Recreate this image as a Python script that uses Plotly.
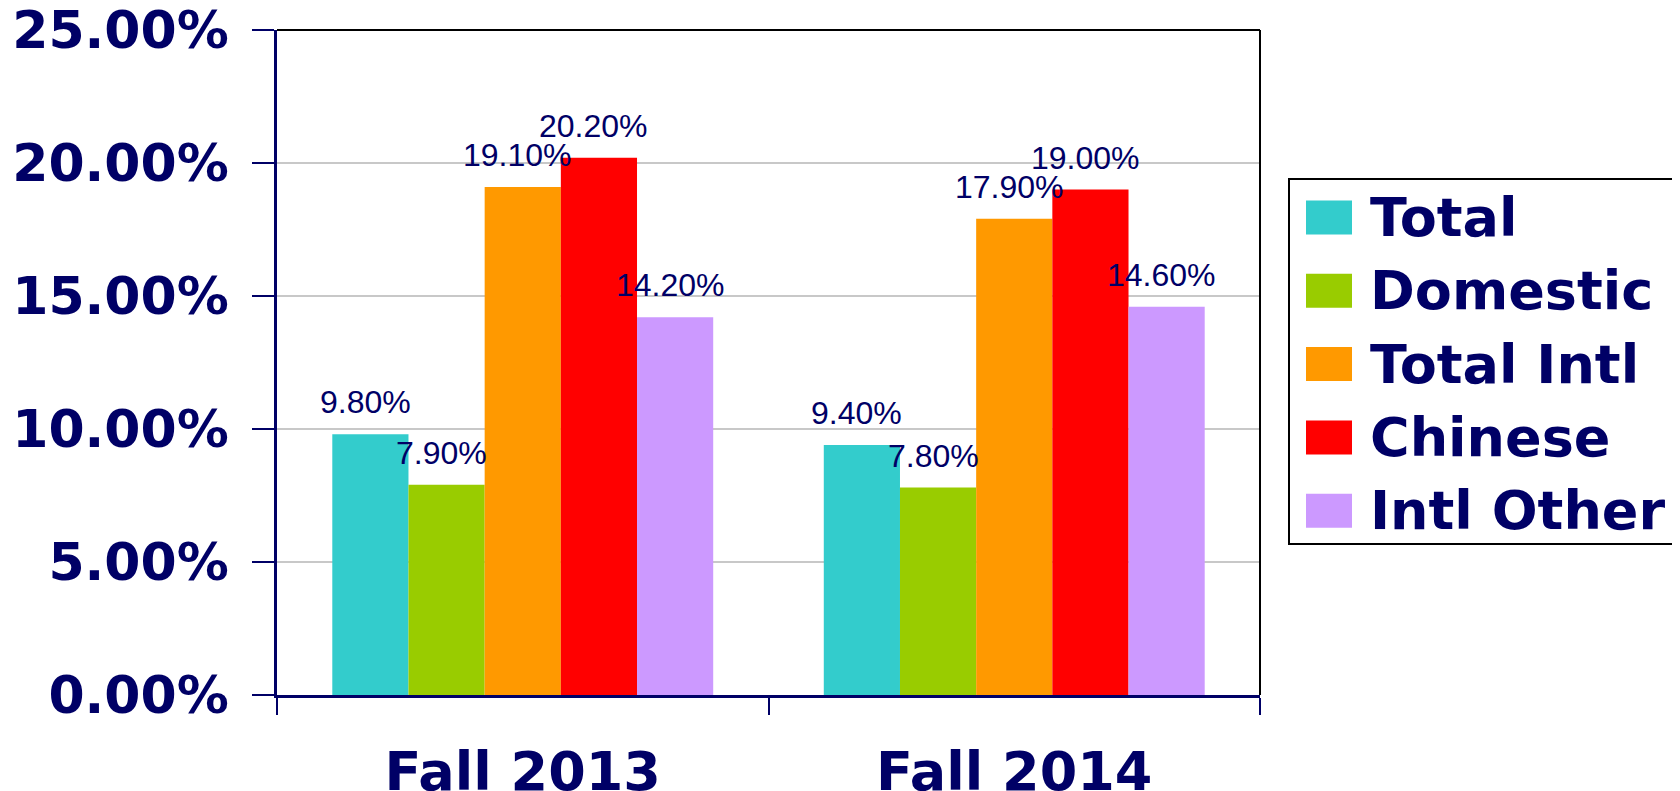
import plotly.graph_objects as go

categories = ["Fall 2013", "Fall 2014"]
series_names = ["Total", "Domestic", "Total Intl", "Chinese", "Intl Other"]
total = [9.8, 9.4]
domestic = [7.9, 7.8]
total_intl = [19.1, 17.9]
chinese = [20.2, 19.0]
intl_other = [14.2, 14.6]
series_values = [total, domestic, total_intl, chinese, intl_other]
colors = ["#33CCCC", "#99CC00", "#FF9900", "#FF0000", "#CC99FF"]
y_ticks = [0, 5, 10, 15, 20, 25]

NAVY = "#000066"
OFF = 8  # page body margin
W, H = 1680 - OFF, 791 - OFF
L, T = 277 - OFF, 30 - OFF
R = 420
B = 96
BARGAP = 0.225

fig = go.Figure()
for name, vals, col in zip(series_names, series_values, colors):
    fig.add_trace(go.Bar(x=categories, y=vals, name=name, marker=dict(color=col, line=dict(width=0)),
                         showlegend=False))

# data labels above bars
n = len(series_names)
bw = (1 - BARGAP) / n
for i, vals in enumerate(series_values):
    off = -(1 - BARGAP) / 2 + bw * (i + 0.5)
    for j, v in enumerate(vals):
        fig.add_annotation(x=j + off, y=v, xref="x", yref="y", text=f"{v:.2f}%",
                           showarrow=False, yanchor="bottom", xanchor="center", yshift=12, xshift=-5,
                           font=dict(family="Liberation Sans, Arial", size=32, color=NAVY))

# manual legend (positions given in screen pixels)
pw, ph = W - L - R, H - T - B
def px(x):
    return (x - OFF - L) / pw
def py(y):
    return (H - B - (y - OFF)) / ph

fig.add_shape(type="rect", xref="paper", yref="paper", x0=px(1289), x1=px(1677), y0=py(179), y1=py(544),
              line=dict(color="black", width=2), fillcolor="white")
row0, step = 217.5, 73.3
for k, (name, col) in enumerate(zip(series_names, colors)):
    cy = row0 + k * step
    fig.add_shape(type="rect", xref="paper", yref="paper", x0=px(1306), x1=px(1352),
                  y0=py(cy + 17), y1=py(cy - 17), line=dict(width=0), fillcolor=col)
    fig.add_annotation(x=px(1368), y=py(cy), xref="paper", yref="paper", text=name, showarrow=False,
                       xanchor="left", yanchor="middle",
                       font=dict(family="DejaVu Sans", size=54, color=NAVY, weight="bold"))

# top and right frame lines (black)
fig.add_shape(type="line", xref="paper", yref="paper", x0=0, x1=1, y0=1, y1=1, line=dict(color="black", width=2))
fig.add_shape(type="line", xref="paper", yref="paper", x0=1, x1=1, y0=0, y1=1, line=dict(color="black", width=2))

fig.update_layout(
    width=W, height=H,
    margin=dict(l=L, r=R, t=T, b=B, pad=0, autoexpand=False),
    paper_bgcolor="white", plot_bgcolor="white",
    barmode="group", bargap=BARGAP, bargroupgap=0,
    showlegend=False,
    xaxis=dict(type="category", showline=True, linecolor=NAVY, linewidth=2.5, automargin=False,
               ticks="outside", tickson="boundaries", ticklen=17, tickwidth=2, tickcolor=NAVY,
               showgrid=False, ticklabelstandoff=27, ticklabeloverflow="allow",
               tickfont=dict(family="DejaVu Sans", size=54, color=NAVY, weight="bold")),
    yaxis=dict(range=[0, 25], tickvals=y_ticks, ticktext=[f"{v:.2f}%" for v in y_ticks],
               showline=True, linecolor=NAVY, linewidth=2.5, automargin=False,
               ticks="outside", ticklen=22, tickwidth=2, tickcolor=NAVY,
               showgrid=True, gridcolor="#C8C8C8", gridwidth=2, zeroline=False,
               ticklabelstandoff=13, ticklabeloverflow="allow",
               tickfont=dict(family="DejaVu Sans", size=52, color=NAVY, weight="bold")),
)

fig.write_html("out.html")
